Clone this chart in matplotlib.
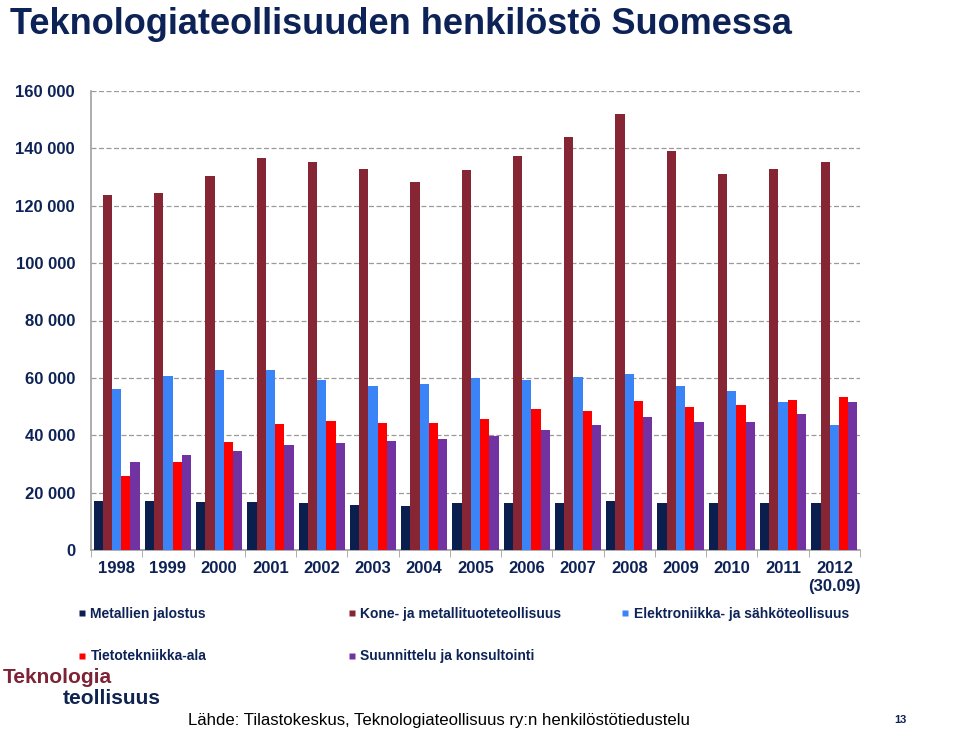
import matplotlib
matplotlib.use("Agg")
import matplotlib.pyplot as plt
import numpy as np
from matplotlib.lines import Line2D
from matplotlib.ticker import FuncFormatter, FixedLocator

plt.rcParams['font.family'] = ['Liberation Sans', 'DejaVu Sans']

years = ["1998", "1999", "2000", "2001", "2002", "2003", "2004", "2005",
         "2006", "2007", "2008", "2009", "2010", "2011", "2012\n(30.09)"]
series_names = ["Metallien jalostus", "Kone- ja metallituoteteollisuus",
                "Elektroniikka- ja sähköteollisuus", "Tietotekniikka-ala",
                "Suunnittelu ja konsultointi"]
metallien = [17200, 17200, 16700, 16700, 16500, 15800, 15300, 16500,
             16500, 16500, 17000, 16500, 16300, 16500, 16300]
kone = [123900, 124600, 130300, 136600, 135200, 132800, 128400, 132600,
        137500, 144100, 152100, 139000, 131000, 132800, 135400]
elektro = [56100, 60600, 62600, 62600, 59100, 57000, 57700, 59800,
           59100, 60300, 61400, 57000, 55400, 51600, 43700]
tieto = [25700, 30800, 37600, 43900, 45100, 44100, 44100, 45500,
         49200, 48300, 52000, 49900, 50400, 52300, 53200]
suunnittelu = [30800, 33100, 34400, 36500, 37400, 38100, 38600, 39700,
               42000, 43700, 46200, 44600, 44600, 47400, 51600]
colors = ["#0B1F4F", "#862634", "#3A84F7", "#FF0000", "#7332A2"]
series = [metallien, kone, elektro, tieto, suunnittelu]

navy = "#0D2256"
fig = plt.figure(figsize=(9.6, 7.35), dpi=100)
ax = fig.add_axes([91/960, 1-550/735, (860-91)/960, (550-91)/735])

x = np.arange(len(years))
w = 0.18
for i, (vals, c) in enumerate(zip(series, colors)):
    ax.bar(x + (i - 2) * w, vals, width=w, color=c, edgecolor='none', zorder=3)

ax.set_xlim(-0.5, len(years) - 0.5)
ax.set_ylim(0, 160000)
ax.set_yticks(np.arange(0, 160001, 20000))
ax.yaxis.set_major_formatter(FuncFormatter(lambda v, p: f"{int(v):,}".replace(",", " ")))
ax.grid(axis='y', color='#9A9A9A', linestyle=(0, (4, 2)), linewidth=0.9, zorder=0)
ax.set_xticks(x)
ax.set_xticklabels(years)
ax.xaxis.set_minor_locator(FixedLocator(np.arange(-0.5, len(years), 1.0)))
ax.tick_params(axis='x', which='major', length=0, pad=8)
ax.tick_params(axis='x', which='minor', length=5, color='#A0A0A0')
ax.tick_params(axis='y', length=0, pad=11.5)
for lab in ax.get_xticklabels() + ax.get_yticklabels():
    lab.set_fontweight('bold')
    lab.set_fontsize(12)
    lab.set_color(navy)
for s in ['top', 'right']:
    ax.spines[s].set_visible(False)
for s in ['left', 'bottom']:
    ax.spines[s].set_color('#A0A0A0')
    ax.spines[s].set_linewidth(1.2)

def handle(c):
    return Line2D([], [], marker='s', linestyle='none', markersize=5,
                  markerfacecolor=c, markeredgecolor='none')

groups = [([0, 3], 78), ([1, 4], 348), ([2], 621)]
for idx, xpx in groups:
    leg = fig.legend([handle(colors[i]) for i in idx], [series_names[i] for i in idx],
                     loc='upper left', bbox_to_anchor=(xpx/960, 1-607/735),
                     frameon=False, handlelength=0.6, handletextpad=0.3,
                     labelspacing=2.05, borderaxespad=0, borderpad=0,
                     prop={'weight': 'bold', 'size': 10})
    for t in leg.get_texts():
        t.set_color(navy)

fig.text(10/960, 1-25/735, "Teknologiateollisuuden henkilöstö Suomessa",
         fontsize=26, fontweight='bold', color=navy, va='center', ha='left')
fig.text(3/960, 1-683/735, "Teknologia", fontsize=15, fontweight='bold',
         color="#7E2236", va='baseline', ha='left')
fig.text(63/960, 1-704/735, "teollisuus", fontsize=15, fontweight='bold',
         color="#0F2350", va='baseline', ha='left')
fig.text(188/960, 1-720/735,
         "Lähde: Tilastokeskus, Teknologiateollisuus ry:n henkilöstötiedustelu",
         fontsize=12.1, color='black', va='center', ha='left')
fig.text(900/960, 1-720/735, "13", fontsize=8, fontweight='bold', color=navy,
         va='center', ha='center')

fig.savefig("out.png", dpi=100)
